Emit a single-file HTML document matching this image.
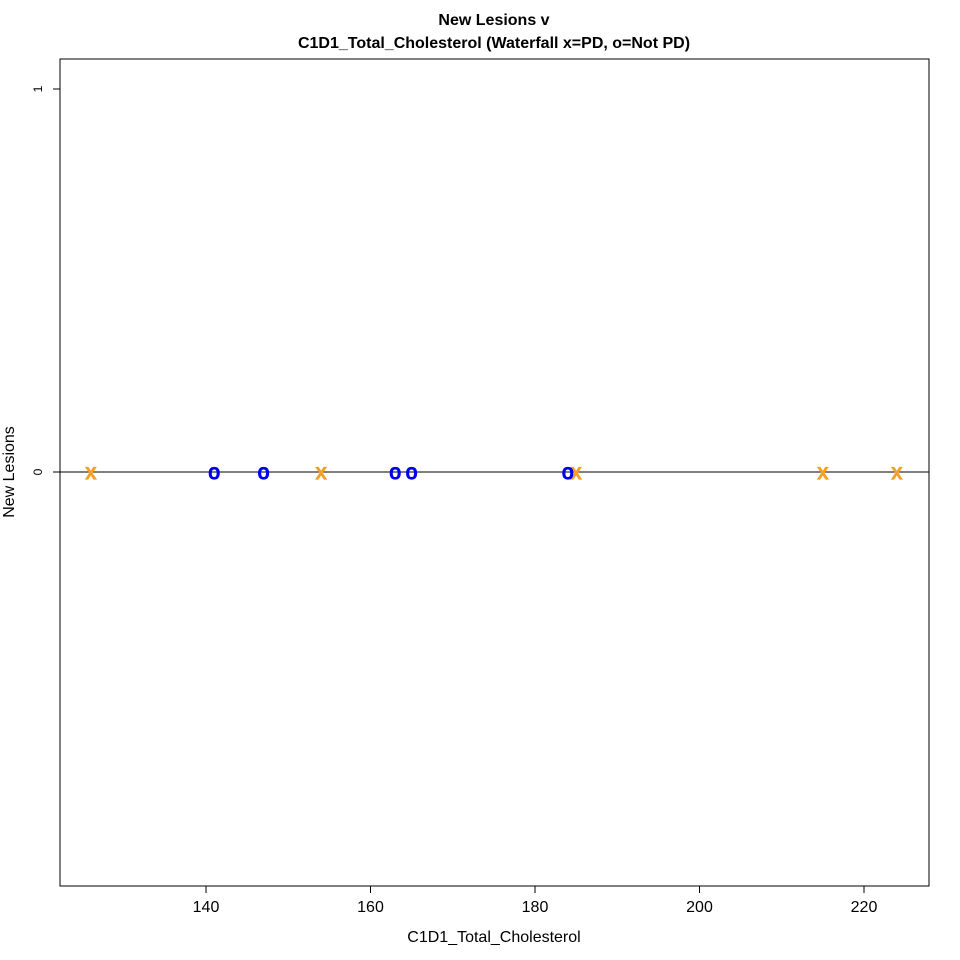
<!DOCTYPE html>
<html><head><meta charset="utf-8"><style>
body{margin:0;background:#fff}
svg{display:block;font-family:"Liberation Sans",Arial,sans-serif}
</style></head><body>
<svg id="chart" width="960" height="960">
<rect width="960" height="960" fill="#fff"/>
<text x="494" y="25" text-anchor="middle" font-size="16" font-weight="bold">New Lesions v</text>
<text x="494" y="48" text-anchor="middle" font-size="16" font-weight="bold">C1D1_Total_Cholesterol (Waterfall x=PD, o=Not PD)</text>
<rect x="60" y="59" width="869" height="827" fill="none" stroke="#000" stroke-width="1"/>
<text x="494" y="942" text-anchor="middle" font-size="16">C1D1_Total_Cholesterol</text>
<text transform="translate(14,472) rotate(-90)" text-anchor="middle" font-size="16">New Lesions</text>
<g id="xaxis"></g>
<g id="yaxis"></g>
<g id="marks"></g>
</svg>
<script>
const xTicks = [140, 160, 180, 200, 220];
const yTicks = [0, 1];
const pdX = [126, 154, 185, 215, 224];
const pdY = [0, 0, 0, 0, 0];
const notPdX = [141, 147, 163, 165, 184];
const notPdY = [0, 0, 0, 0, 0];

const NS = "http://www.w3.org/2000/svg";
const xs = v => 206 + (v - 140) * 8.225;
const ys = v => 472 - v * 383;
function mk(tag, attrs, parent){const e=document.createElementNS(NS,tag);for(const k in attrs)e.setAttribute(k,attrs[k]);parent.appendChild(e);return e;}
const xa=document.getElementById('xaxis'), ya=document.getElementById('yaxis'), mg=document.getElementById('marks');
xTicks.forEach(t=>{
  const l=mk('line',{x1:xs(t),x2:xs(t),y1:886,y2:893,stroke:'#000'},xa);
  
  
  const tx=mk('text',{x:xs(t),y:912,'text-anchor':'middle','font-size':16},xa);
  tx.textContent=t;
  
  
});
yTicks.forEach(t=>{
  const l=mk('line',{x1:53,x2:60,y1:ys(t),y2:ys(t),stroke:'#000'},ya);
  
  
  const tx=mk('text',{transform:`translate(42,${ys(t)}) rotate(-90)`,'text-anchor':'middle','font-size':12},ya);
  tx.textContent=t;
  
  
});
const zl=mk('line',{x1:60,x2:929,y1:ys(0),y2:ys(0),stroke:'#000'},mg);


pdX.forEach((v,i)=>{
  const t=mk('text',{x:xs(v),y:ys(pdY[i])+7,'text-anchor':'middle','font-size':21,fill:'#F5A020',stroke:'#F5A020','stroke-width':1.2},mg);
  t.textContent='x';
  
  
});
notPdX.forEach((v,i)=>{
  const t=mk('text',{x:xs(v),y:ys(notPdY[i])+7,'text-anchor':'middle','font-size':21,fill:'#0000EE',stroke:'#0000EE','stroke-width':1.2},mg);
  t.textContent='o';
  
  
});
</script>
</body></html>
